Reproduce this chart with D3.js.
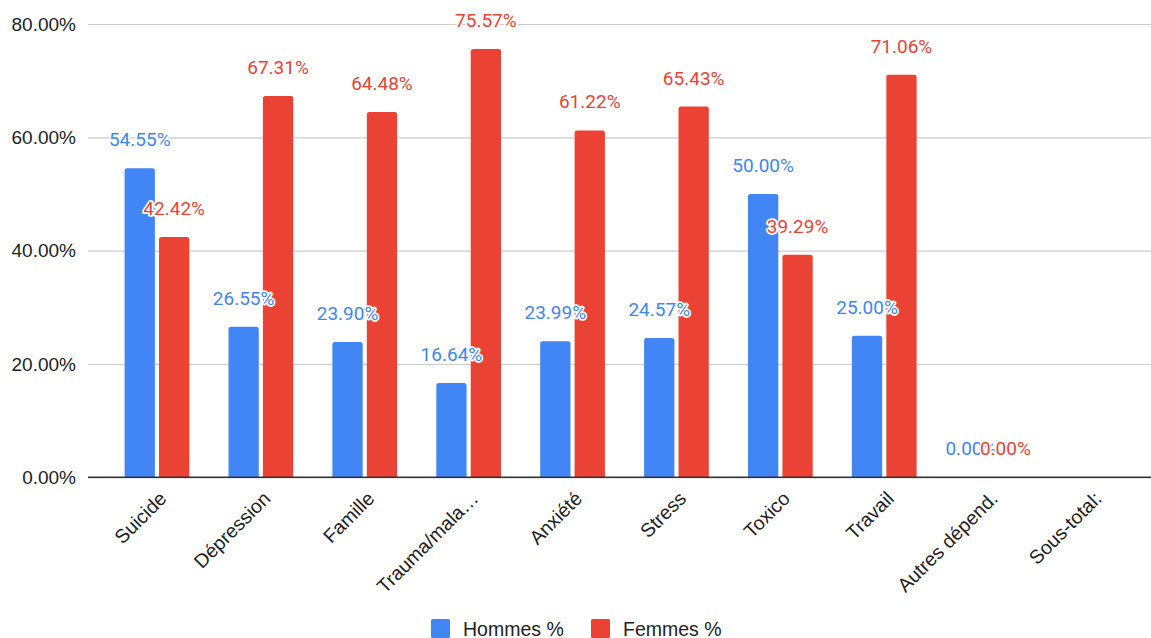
<!DOCTYPE html>
<html>
<head>
<meta charset="utf-8">
<script src="https://cdn.jsdelivr.net/npm/d3@7"></script>
<style>
  html, body { margin: 0; padding: 0; background: #fff; }
  svg { display: block; }
</style>
</head>
<body>
<svg id="chart" width="1151" height="638"></svg>
<script>
const categories = ["Suicide", "Dépression", "Famille", "Trauma/mala…", "Anxiété", "Stress", "Toxico", "Travail", "Autres dépend.", "Sous-total:"];
const hommes = [54.55, 26.55, 23.90, 16.64, 23.99, 24.57, 50.00, 25.00, 0, null];
const femmes = [42.42, 67.31, 64.48, 75.57, 61.22, 65.43, 39.29, 71.06, 0, null];
const seriesNames = ["Hommes %", "Femmes %"];
const seriesColors = ["#4285f4", "#ea4335"];
const yTicks = [0, 20, 40, 60, 80];

const svg = d3.select("#chart");
const plotLeft = 88, plotRight = 1151, plotTop = 24, plotBottom = 477.3;

const x = d3.scaleBand().domain(categories).range([105, 1144]).paddingInner(0.377).paddingOuter(0.1885);
const xs = d3.scaleBand().domain(seriesNames).range([0, x.bandwidth()]).paddingInner(0.12);
const y = d3.scaleLinear().domain([0, 80]).range([plotBottom, plotTop]);

// grid + y axis
const yAxis = d3.axisLeft(y).tickValues(yTicks).tickSize(-(plotRight - plotLeft)).tickPadding(12)
  .tickFormat(d => d.toFixed(2) + "%");
const gy = svg.append("g").attr("transform", `translate(${plotLeft},0)`).call(yAxis);
gy.select(".domain").remove();
gy.selectAll(".tick line").attr("stroke", "#cccccc").attr("stroke-width", 1.2);
gy.selectAll(".tick text").attr("fill", "#222").style("font-family", "'Liberation Sans', Arial, sans-serif").style("font-size", "19px");

const data = categories.map((c, i) => ({ cat: c, vals: [hommes[i], femmes[i]] }));

function roundTopRect(x0, y0, w, h, r) {
  r = Math.min(r, h, w / 2);
  if (h <= 0) return "";
  return `M${x0},${y0 + h}V${y0 + r}Q${x0},${y0} ${x0 + r},${y0}H${x0 + w - r}Q${x0 + w},${y0} ${x0 + w},${y0 + r}V${y0 + h}Z`;
}

const groups = svg.append("g").selectAll("g").data(data).join("g")
  .attr("transform", d => `translate(${x(d.cat)},0)`);

groups.selectAll("path").data(d => d.vals.map((v, k) => ({ v, k })).filter(e => e.v !== null && e.v > 0)).join("path")
  .attr("d", e => roundTopRect(xs(seriesNames[e.k]), y(e.v), xs.bandwidth(), y(0) - y(e.v), 2.5))
  .attr("fill", e => seriesColors[e.k]);

// baseline
svg.append("line").attr("x1", plotLeft).attr("x2", plotRight).attr("y1", y(0)).attr("y2", y(0))
  .attr("stroke", "#333").attr("stroke-width", 1.5);

// data labels (drawn after all bars)
const labelItems = [];
data.forEach(d => d.vals.forEach((v, k) => { if (v !== null) labelItems.push({ cat: d.cat, v, k }); }));
labelItems.sort((a, b) => a.k - b.k);
svg.append("g").selectAll("text").data(labelItems).join("text")
  .attr("x", e => x(e.cat) + xs(seriesNames[e.k]) + xs.bandwidth() / 2)
  .attr("y", e => y(e.v) - 22)
  .attr("text-anchor", "middle")
  .attr("fill", e => seriesColors[e.k])
  .attr("stroke", "#fff").attr("stroke-width", 3.5).attr("stroke-linejoin", "round")
  .style("paint-order", "stroke")
  .style("font-family", "Roboto, 'Noto Sans', sans-serif").style("font-size", "19px")
  .text(e => e.v.toFixed(2) + "%");

// x labels
svg.append("g").selectAll("text").data(categories).join("text")
  .attr("transform", c => `translate(${x(c) + x.bandwidth() / 2 + 6},495) rotate(-45)`)
  .attr("text-anchor", "end").attr("dy", "0.35em")
  .attr("fill", "#222")
  .style("font-family", "'Liberation Sans', Arial, sans-serif").style("font-size", "19.5px")
  .text(c => c);

// legend
const legend = svg.append("g");
const legendX = [431, 591];
seriesNames.forEach((s, i) => {
  legend.append("rect").attr("x", legendX[i]).attr("y", 619).attr("width", 19).attr("height", 19).attr("rx", 1.5)
    .attr("fill", seriesColors[i]);
  legend.append("text").attr("x", legendX[i] + 32).attr("y", 636).attr("fill", "#222")
    .style("font-family", "'Liberation Sans', Arial, sans-serif").style("font-size", "19.5px").text(s);
});
</script>
</body>
</html>
